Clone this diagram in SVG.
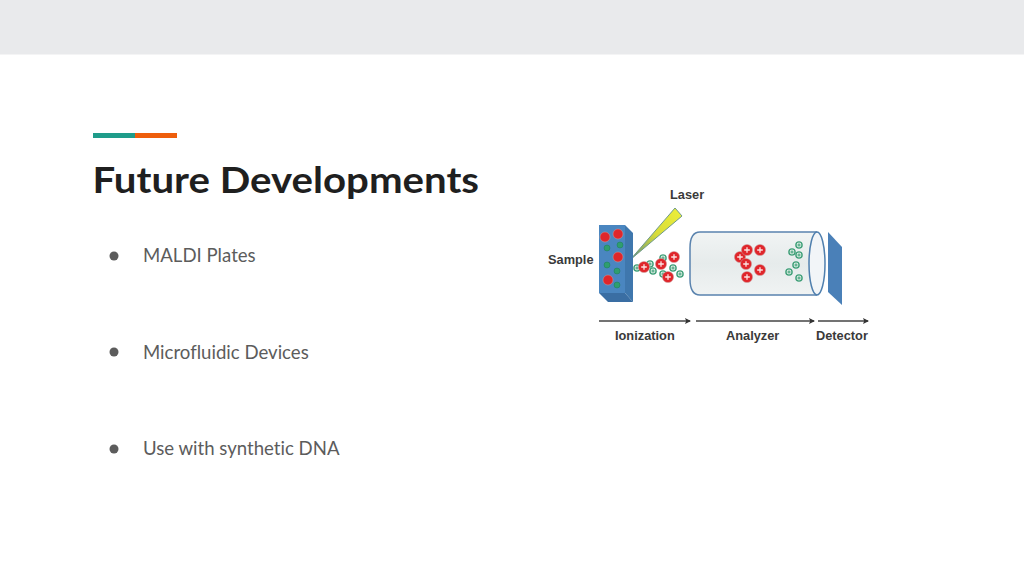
<svg xmlns="http://www.w3.org/2000/svg" width="1024" height="576" viewBox="0 0 1024 576">
<style>
.body{font-family:Lato,"Liberation Sans",sans-serif;font-size:18.6px;fill:#5c5c5c;font-variant-ligatures:none}
.lab{font-family:"Liberation Sans",Arial,sans-serif;font-size:12.800px;font-weight:700;fill:#3a3a3a}
.bullet{fill:#5c5c5c}
.r{fill:#e0262b;stroke:#c9a0a0;stroke-width:.5}
.g{fill:#2f9e6e;stroke:#1d7f55;stroke-width:.5}
.gi{fill:#dff0e6;stroke:#3f9f78;stroke-width:1.4}
.p{stroke:#fbe3e3;stroke-width:1.3;fill:none}
.q{stroke:#3f9f78;stroke-width:1;fill:none}
.arr{stroke:#444;stroke-width:1.3;fill:none;marker-end:url(#ah)}
</style>
<defs>
<marker id="ah" markerWidth="6" markerHeight="6" refX="5" refY="3" orient="auto" markerUnits="userSpaceOnUse"><path d="M0 0L6 3L0 6L1.2 3Z" fill="#333"/></marker>
<linearGradient id="tube" x1="0" y1="0" x2="0" y2="1"><stop offset="0" stop-color="#f1f4f4"/><stop offset=".5" stop-color="#e6ebeb"/><stop offset="1" stop-color="#f0f3f3"/></linearGradient>
<linearGradient id="laser" x1="0" y1="1" x2="1" y2="0"><stop offset="0" stop-color="#5f8f7a"/><stop offset=".5" stop-color="#d7dc3a"/><stop offset="1" stop-color="#eef03a"/></linearGradient>
<g id="ip"><circle r="5.600" class="r"/><path d="M-2.800 0H2.800M0 -2.800V2.800" class="p"/></g>
<g id="in"><circle r="3.100" class="gi"/><path d="M-1.600 0H1.600M0 -1.600V1.600" class="q"/></g>
</defs>
<rect width="1024" height="576" fill="#fff"/>
<rect width="1024" height="54.500" fill="#e9eaec"/>
<g id="accent"><rect x="93" y="133" width="42" height="5" fill="#1f9c8a"/><rect x="135" y="133" width="42" height="5" fill="#ee5e0c"/></g>
<text id="title" x="92.500" y="193" font-family="Lato,'Liberation Sans',sans-serif" font-size="36" font-weight="700" fill="#1f1f1f" textLength="386.500" lengthAdjust="spacingAndGlyphs">Future Developments</text>
<g id="list">
<circle cx="114" cy="256" r="4.500" class="bullet"/><text x="143" y="262" class="body">MALDI Plates</text>
<circle cx="114" cy="352" r="4.500" class="bullet"/><text x="143" y="358.500" class="body">Microfluidic Devices</text>
<circle cx="114" cy="449" r="4.500" class="bullet"/><text x="143" y="455" class="body">Use with synthetic DNA</text>
</g>
<g id="laser-beam"><polygon points="630,260 675,208 682,216" fill="url(#laser)" stroke="#6f9a8c" stroke-width="1"/></g>
<g id="sample">
<polygon points="625,225 633,233 633,302 625,293" fill="#3f77ad"/>
<polygon points="599,293 625,293 633,302 608,302" fill="#3a6ea3"/>
<rect x="599" y="225" width="26" height="68" fill="#4a86c0"/>
<g class="g"><circle cx="607" cy="248" r="3"/><circle cx="620" cy="245" r="3"/><circle cx="607" cy="265" r="3"/><circle cx="617" cy="271" r="3"/><circle cx="617" cy="285" r="3"/></g>
<g class="r"><circle cx="605" cy="237" r="5"/><circle cx="618" cy="234" r="5"/><circle cx="618" cy="257" r="5"/><circle cx="608" cy="280" r="5"/></g>
</g>
<g id="ions-ionization">
<use href="#in" x="637" y="268"/><use href="#in" x="650" y="264"/><use href="#in" x="653" y="271"/><use href="#in" x="663" y="258"/><use href="#in" x="663" y="274"/><use href="#in" x="673" y="268"/><use href="#in" x="680" y="274"/>
<use href="#ip" x="644" y="267"/><use href="#ip" x="661" y="264"/><use href="#ip" x="674" y="257"/><use href="#ip" x="668" y="277"/>
</g>
<g id="analyzer">
<path d="M817 232H700Q690 232 690 248V279Q690 295 700 295H817" fill="url(#tube)" stroke="#5a83ae" stroke-width="1.500"/>
<ellipse cx="817" cy="263.500" rx="8" ry="31.500" fill="#f2f5f8" stroke="#4f7fae" stroke-width="1.500"/>
<use href="#ip" x="740" y="257"/><use href="#ip" x="747" y="250"/><use href="#ip" x="760" y="250"/><use href="#ip" x="746" y="264"/><use href="#ip" x="760" y="270"/><use href="#ip" x="747" y="277"/>
<use href="#in" x="799" y="245"/><use href="#in" x="792" y="252"/><use href="#in" x="799" y="255"/><use href="#in" x="796" y="265"/><use href="#in" x="789" y="272"/><use href="#in" x="799" y="278"/>
</g>
<g id="detector"><polygon points="828,232 842,247 842,305 828,292" fill="#4a80b8"/></g>
<g id="connectors">
<path d="M599 321H690" class="arr"/><path d="M696 321H814" class="arr"/><path d="M818 321H868" class="arr"/>
</g>
<g id="labels">
<text x="670" y="199" class="lab">Laser</text>
<text x="548" y="264" class="lab">Sample</text>
<text x="615" y="340" class="lab">Ionization</text>
<text x="726" y="340" class="lab">Analyzer</text>
<text x="816" y="340" class="lab">Detector</text>
</g>
</svg>
